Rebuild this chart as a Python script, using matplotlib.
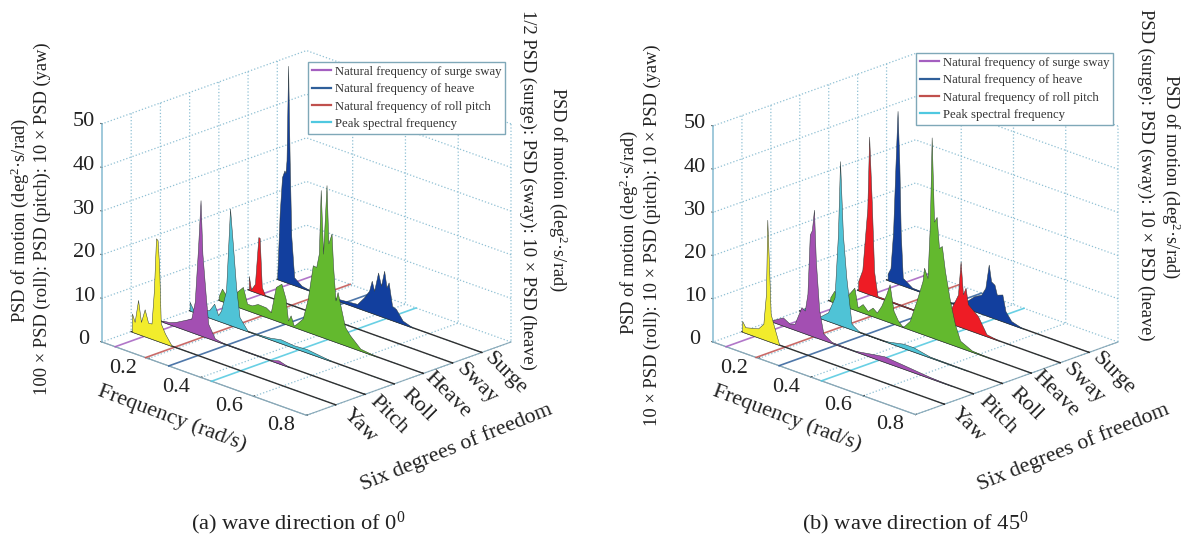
import matplotlib
matplotlib.use("Agg")
import matplotlib.pyplot as plt
from matplotlib.lines import Line2D
from mpl_toolkits.mplot3d import proj3d
from mpl_toolkits.mplot3d.art3d import Poly3DCollection

plt.rcParams['font.family'] = ['Liberation Serif', 'DejaVu Serif']
plt.rcParams['mathtext.fontset'] = 'custom'
plt.rcParams['mathtext.rm'] = 'Liberation Serif'
plt.rcParams['mathtext.default'] = 'regular'

W, H = 1182, 538

# ---------- shared labels ----------
dof_labels = ['Yaw', 'Pitch', 'Roll', 'Heave', 'Sway', 'Surge']
dof_positions = [1, 2, 3, 4, 5, 6]
dof_colors = ['#f2ec2c', '#a34fb2', '#4fc3d6', '#63b92e', '#ee1c25', '#123f9e']
freq_ticks = [0.2, 0.4, 0.6, 0.8]
psd_ticks = [0, 10, 20, 30, 40, 50]
legend_labels = ['Natural frequency of surge sway', 'Natural frequency of heave',
                 'Natural frequency of roll pitch', 'Peak spectral frequency']
legend_freqs = [0.075, 0.278, 0.19, 0.44]
legend_colors = ['#a45fc0', '#2f5f9a', '#c0504d', '#4fc8e0']

# ---------- panel (a): wave direction 0 ----------
a_yaw_f = [.028, .038, .051, .062, .076, .089, .102, .111, .119, .125, .131, .137, .153, .179]
a_yaw_z = [4.2, 2.5, 7.8, 3, 6.2, 3.4, 3.5, 11.3, 23.4, 23.1, 17, 4.3, 2.3, 0]
a_pitch_f = [.034, .059, .084, .11, .142, .155, .167, .177, .184, .197, .206, .231, .263, .44, .473, .51]
a_pitch_z = [.3, .5, 1.1, 2, 3.1, 7.2, 19.3, 31, 18.9, 9.3, 3.3, .5, .1, .1, .7, .05]
a_roll_f = [.025, .04, .099, .118, .133, .144, .163, .178, .188, .201, .214, .246, .33, .37, .42, .47, .56]
a_roll_z = [2, .4, 1.7, 3.6, 1.3, 2.6, 7.6, 26.7, 19.3, 9.2, 2.6, 0, .4, .9, .6, .8, .1]
a_heave_f = [.025, .037, .06, .116, .132, .15, .172, .203, .222, .241, .262, .278, .287, .297, .309,
             .32, .343, .362, .381, .394, .404, .411, .42, .433, .44, .452, .458, .467, .475, .487,
             .503, .522, .561, .625]
a_heave_z = [1, 2.9, 1, 5, 1.5, 1.5, 2.3, 2.2, 1.5, 7.7, 8.9, 5.8, 1, 2.4, .3,
             1, 2.7, 7.6, 15.7, 15.6, 18.9, 33.6, 19.2, 35.2, 22, 24.5, 17, 9.5, 11.6, 8.4,
             4.2, 2.7, .5, 0]
a_sway_f = [.028, .036, .051, .064, .069, .077, .09]
a_sway_z = [3.2, .3, 1.9, 12.9, 12.8, 1.7, 0]
a_surge_f = [.025, .034, .043, .052, .056, .06, .066, .072, .078, .089, .117, .16, .277, .328, .353,
             .373, .383, .392, .407, .418, .43, .439, .447, .46, .475, .5, .539]
a_surge_z = [1, 15.2, 23.8, 25.5, 25, 28, 49.8, 28, 11, 1.8, .5, 0, .6, .9, 2.9,
             4.9, 7.4, 5.3, 9.8, 7, 10.7, 7.1, 8.4, 3.3, 2.9, .8, 0]

# ---------- panel (b): wave direction 45 ----------
b_yaw_f = [.026, .038, .087, .107, .117, .122, .129, .135, .145, .168]
b_yaw_z = [2.5, 1.3, 2.1, 3.6, 10.7, 28, 17, 6.5, 4.4, 0]
b_pitch_f = [.031, .071, .097, .116, .142, .155, .165, .174, .182, .19, .197, .21, .226, .258,
             .343, .418, .459, .531, .633, .72]
b_pitch_z = [.4, 1.9, 1, 1.4, 5.8, 5.3, 9.4, 23.3, 24.5, 29.4, 17.8, 6.5, 1.5, .25,
             .1, .9, 1.3, .9, .3, 0]
b_roll_f = [.029, .055, .099, .133, .158, .171, .179, .19, .203, .223, .255, .345, .422, .46, .524, .664]
b_roll_z = [.5, 1.4, .2, 2, 6, 20.8, 38, 21.2, 11.6, 1.3, 0, 0, 1, 1, .2, 0]
b_heave_f = [.031, .046, .08, .123, .136, .155, .174, .193, .209, .226, .245, .258, .273, .29, .309,
             .335, .361, .384, .39, .403, .412, .419, .428, .438, .447, .458, .47, .489, .508,
             .528, .573, .644]
b_heave_z = [.9, 2.7, 1.2, 5.1, .8, 2, .8, 2, 1.2, 3.1, 6.2, 8.8, 3, 1.1, 0,
             2, 7.2, 12.3, 15.5, 13.4, 25.9, 46.3, 27, 28.3, 21.3, 22, 16.4, 10, 5,
             1.6, .3, 0]
b_sway_f = [.027, .043, .062, .069, .079, .088, .101, .25, .384, .409, .419, .428, .438, .447, .485, .518, .569]
b_sway_z = [2.1, 5.1, 19.7, 36.5, 21.6, 5.7, .3, .2, 3.7, 7.3, 15.2, 7.8, 9.5, 5.9, 4, .5, 0]
b_surge_f = [.029, .04, .05, .059, .067, .074, .079, .087, .123, .303, .361, .387, .403, .416, .425,
             .438, .447, .468, .48, .502, .547]
b_surge_z = [1.5, 3, 11.7, 27.2, 40, 27.5, 12.3, 1.8, .3, 0, 3.5, 4.4, 6.3, 12, 8.3,
             7.8, 5.7, 6.2, 2.6, .8, 0]

a_series = [(a_yaw_f, a_yaw_z), (a_pitch_f, a_pitch_z), (a_roll_f, a_roll_z),
            (a_heave_f, a_heave_z), (a_sway_f, a_sway_z), (a_surge_f, a_surge_z)]
b_series = [(b_yaw_f, b_yaw_z), (b_pitch_f, b_pitch_z), (b_roll_f, b_roll_z),
            (b_heave_f, b_heave_z), (b_sway_f, b_sway_z), (b_surge_f, b_surge_z)]

FMIN, FMAX = 0.025, 0.8
DMIN, DMAX = 0, 7
ZMAX = 50
GRID = '#8fc0d4'
INK = '#222222'

fig = plt.figure(figsize=(W / 100, H / 100), dpi=100)


def px(x, y):
    return x / W, 1 - y / H


def project(ax, x, y, z):
    X, Y, _ = proj3d.proj_transform(x, y, z, ax.get_proj())
    return ax.transData.transform((X, Y))


def tick_text(ax, point, offset, s, rot=0, size=16):
    d = project(ax, *point)
    fig.text((d[0] + offset[0]) / W, (d[1] - offset[1]) / H, s, rotation=rot,
             ha='center', va='center', fontsize=size, color=INK, rotation_mode='anchor')


def panel(series, origin, right, legend_xy):
    ax = fig.add_axes([0.1, 0.1, 0.4, 0.8], projection='3d', computed_zorder=False)
    ax.patch.set_alpha(0)
    ax.set_proj_type('ortho')
    ax.view_init(elev=21, azim=-45)
    ax.set_xlim(FMIN, FMAX, view_margin=0)
    ax.set_ylim(DMIN, DMAX, view_margin=0)
    ax.set_zlim(0, ZMAX, view_margin=0)
    aspect = (1, 1, 0.808)
    ax.set_box_aspect(aspect, zoom=1)
    ax.apply_aspect()
    p0 = project(ax, FMIN, DMIN, 0)
    p1 = project(ax, FMAX, DMAX, 0)
    ax.set_box_aspect(aspect, zoom=(right[0] - origin[0]) / (p1[0] - p0[0]))
    p0 = project(ax, FMIN, DMIN, 0)
    pos = ax.get_position()
    dx = (origin[0] - p0[0]) / W
    dy = ((H - origin[1]) - p0[1]) / H
    ax.set_position([pos.x0 + dx, pos.y0 + dy, pos.width, pos.height])
    ax.apply_aspect()

    # panes, grid and axes
    for axis in (ax.xaxis, ax.yaxis, ax.zaxis):
        axis.set_pane_color((1, 1, 1, 0))
        axis.pane.set_edgecolor(GRID)
        axis.pane.set_linestyle(':')
        axis.pane.set_linewidth(0.9)
        axis._axinfo['grid'].update(color=GRID, linestyle=':', linewidth=0.9)
        axis.line.set_color('#8aa9b8')
        axis._axinfo['tick']['inward_factor'] = 0.0
        axis._axinfo['tick']['outward_factor'] = 0.06
    ax.zaxis._axinfo['juggled'] = (1, 0, 2)
    ax.set_xticks(freq_ticks)
    ax.set_xticklabels([''] * len(freq_ticks))
    ax.set_yticks(dof_positions)
    ax.set_yticklabels([''] * len(dof_positions))
    ax.set_zticks(psd_ticks)
    ax.set_zticklabels([''] * len(psd_ticks))
    ax.plot([FMIN, FMIN], [DMIN, DMIN], [0, ZMAX], color='#8fc0d4', lw=1.2, zorder=0.5)

    for f in freq_ticks:
        tick_text(ax, (f, DMIN, 0), (-25, 10), f'{f:.1f}')
    for d, name in zip(dof_positions, dof_labels):
        tick_text(ax, (FMAX, d, 0), (24, 21), name, rot=-45)
    for z in psd_ticks:
        tick_text(ax, (FMIN, DMIN, z), (-18, -2), str(z))

    # frequency markers on the floor
    handles = []
    for f, c, lab in zip(legend_freqs, legend_colors, legend_labels):
        ax.plot([f, f], [DMIN, DMAX], [0, 0], color=c, lw=1.2, alpha=0.85, zorder=1)
        handles.append(Line2D([0], [0], color=c, lw=1.6, label=lab))

    # spectra from back to front
    z = 10
    for i in range(5, -1, -1):
        y = dof_positions[i]
        f, v = series[i]
        ax.plot([FMIN, FMAX], [y, y], [0, 0], color='#303030', lw=1.0, zorder=z)
        verts = [(f[0], y, 0)] + [(a, y, b) for a, b in zip(f, v)] + [(f[-1], y, 0)]
        poly = Poly3DCollection([verts], facecolors=dof_colors[i], edgecolors='#2f3a3a',
                                linewidths=0.35, zorder=z + 1)
        ax.add_collection3d(poly)
        z += 2

    ax.legend(handles=handles, loc='upper left',
              bbox_to_anchor=px(*legend_xy), bbox_transform=fig.transFigure,
              fontsize=9.2, frameon=True, fancybox=False, edgecolor='#7fa8b8', framealpha=1,
              borderaxespad=0, borderpad=0.3, labelspacing=0.42, handlelength=1.5,
              handletextpad=0.3, labelcolor='#333333')
    return ax


panel(a_series, (102, 342), (511, 341), (308, 62))
panel(b_series, (713, 342), (1118, 341), (916, 53))


def label(x, y, s, rot=0, size=13.3):
    fig.text(*px(x, y), s, rotation=rot, ha='center', va='center', fontsize=size,
             color=INK, rotation_mode='anchor')


motion = 'PSD of motion (deg$^2$·s/rad)'
label(20, 220, motion, 90)
label(42, 219, '100 × PSD (roll): PSD (pitch): 10 × PSD (yaw)', 90)
label(528, 190, '1/2 PSD (surge): PSD (sway): 10 × PSD (heave)', -90)
label(558, 190, motion, -90)
label(172, 418, 'Frequency (rad/s)', -20.5, 16)
label(456, 447, 'Six degrees of freedom', 22, 15.8)
label(298, 523, '(a) wave direction of 0$^0$', 0, 16.2)

label(629, 232, motion, 90)
label(652, 235, '10 × PSD (roll): 10 × PSD (pitch): 10 × PSD (yaw)', 90)
label(1146, 175, 'PSD (surge): PSD (sway): 10 × PSD (heave)', -90)
label(1171, 177, motion, -90)
label(787, 418, 'Frequency (rad/s)', -20.5, 16)
label(1073, 447, 'Six degrees of freedom', 22, 15.8)
label(915, 523, '(b) wave direction of 45$^0$', 0, 16.2)

fig.savefig('out.png', dpi=100)
